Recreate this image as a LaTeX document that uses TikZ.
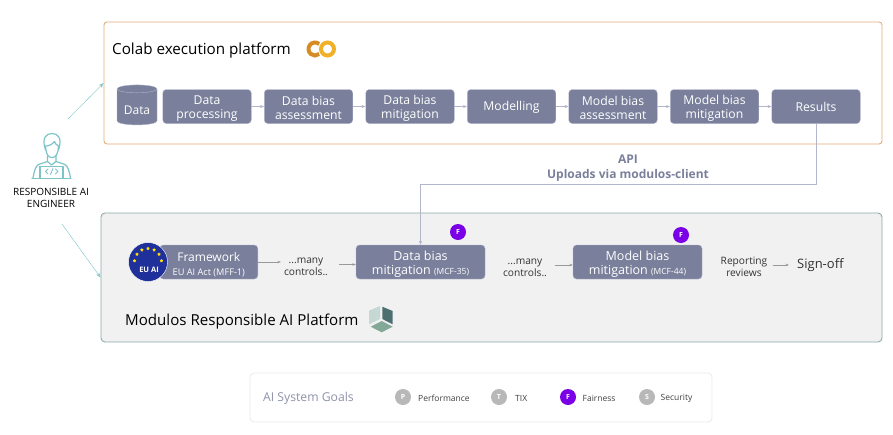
\documentclass[tikz,border=0pt]{standalone}
\usepackage{fontspec}
\setmainfont{Open Sans}
\usetikzlibrary{arrows.meta, shapes.geometric}
\definecolor{boxgray}{HTML}{7A809B}
\definecolor{boxline}{HTML}{B1B6CB}
\definecolor{tealline}{HTML}{7CC4C8}
\definecolor{fairviolet}{HTML}{7A00E6}
\definecolor{badgegray}{HTML}{B8B8B8}
\definecolor{colabline}{HTML}{E0AE78}
\definecolor{colabring}{HTML}{F0B028}
\definecolor{colabarc}{HTML}{D68C24}
\definecolor{modline}{HTML}{8FA8A8}
\definecolor{modleft}{HTML}{C5D8D3}
\definecolor{modright}{HTML}{4D6F70}
\definecolor{modbottom}{HTML}{84A898}
\definecolor{eublue}{HTML}{20309A}
\tikzset{
    stepbase/.style={draw=boxline, fill=boxgray, rounded corners=3.5pt, text=white, align=center,
        minimum width=88.5pt, minimum height=34pt, inner sep=0pt, font=\fontsize{12.2}{14}\selectfont},
    stepbox/.style={stepbase, execute at begin node=\rule{0pt}{27pt}},
    mitbox/.style={stepbase, minimum width=129pt, font=\fontsize{12.5}{14}\selectfont,
        execute at begin node=\rule{0pt}{28pt}},
    flow/.style={draw=boxline, -{Stealth[length=4pt,width=3pt]}},
    grayflow/.style={draw=gray!80, -{Stealth[length=3.5pt,width=2.5pt]}},
    note/.style={align=center, inner sep=0pt, text=black!80, font=\fontsize{10.2}{12}\selectfont,
        execute at begin node=\rule{0pt}{23pt}},
    badge/.style={circle, minimum size=16pt, inner sep=0pt, text=white, font=\bfseries\fontsize{7}{8}\selectfont},
    goal/.style={anchor=west, inner sep=0pt, text=black!75, font=\fontsize{8.5}{10}\selectfont},
    icon/.style={draw=tealline, line width=1.2pt, line cap=round, line join=round},
}
\begin{document}
\begin{tikzpicture}[x=1pt, y=-1pt]
    \useasboundingbox (0,0) rectangle (893,434);
    % platforms
    \node (colab) [draw=colabline, line width=.9pt, rounded corners=3pt, minimum width=778pt, minimum height=122pt, inner sep=0pt] at (493,83) {};
    \node (modulos) [draw=modline, fill=black!5.5, rounded corners=4pt, line width=.9pt, minimum width=781pt, minimum height=129pt, inner sep=0pt] at (491.5,277.5) {};
    \node (colabtitle) [anchor=west, inner sep=0pt, font=\fontsize{15.2}{17}\selectfont] at (112,50.5) {Colab execution platform};
    \node (modulostitle) [anchor=west, inner sep=0pt, font=\fontsize{15.1}{17}\selectfont] at (125,321.5) {Modulos Responsible AI Platform};
    % colab logo
    \draw[line width=4pt, draw=colabring] (327.5,49) circle (6.5pt);
    \draw[line width=4pt, draw=colabarc] (315,49) ++(50:6.5pt) arc (50:310:6.5pt);
    % modulos logo
    \fill[modleft] (369,310.7) -- (380,306) -- (380,319) -- (369,324.3) -- cycle;
    \fill[modright] (382.3,306.7) -- (392.7,311) -- (392.7,324.3) -- (382.3,319) -- cycle;
    \fill[modbottom] (381.7,321) -- (392.7,326.7) -- (381.7,332.3) -- (370.7,326.7) -- cycle;
    % colab pipeline
    \node (data) [cylinder, shape border rotate=90, aspect=.3, draw=boxline, fill=boxgray, text=white, minimum width=40pt, minimum height=40pt, inner sep=0pt, font=\fontsize{12}{14}\selectfont, execute at begin node=\rule{0pt}{15pt}] at (137,107) {Data};
    \node (processing) [stepbox] at (207,106.5) {Data\\processing};
    \node (dataassess) [stepbox] at (308.5,106.5) {Data bias\\assessment};
    \node (datafix) [stepbox] at (410,106.5) {Data bias\\mitigation};
    \node (modelling) [stepbase, execute at begin node=\rule{0pt}{11pt}] at (511.5,106.5) {Modelling};
    \node (modelassess) [stepbox] at (613,106.5) {Model bias\\assessment};
    \node (modelfix) [stepbox] at (714.5,106.5) {Model bias\\mitigation};
    \node (results) [stepbase, execute at begin node=\rule{0pt}{11pt}] at (816,106.5) {Results};
    \draw[flow] (processing) -- (dataassess);
    \draw[flow] (dataassess) -- (datafix);
    \draw[flow] (datafix) -- (modelling);
    \draw[flow] (modelling) -- (modelassess);
    \draw[flow] (modelassess) -- (modelfix);
    \draw[flow] (modelfix) -- (results);
    % engineer
    \draw[icon] (45.5,150) .. controls (41.5,138) and (46,133.5) .. (52,133.5) .. controls (58,133.5) and (62.5,138) .. (58.5,150);
    \draw[icon] (45.5,146) .. controls (46,155) and (48.5,157.5) .. (52,157.5) .. controls (55.5,157.5) and (58,155) .. (58.5,146) .. controls (56,145) and (55,143) .. (54.5,141.5) .. controls (52,145) and (48,146) .. (45.5,146);
    \draw[icon] (47.5,156) -- (47.5,161.5) -- (51.5,165) -- (56,161.5) -- (56,156);
    \draw[icon] (47.5,161.5) -- (38.5,164.5) .. controls (35.5,166) and (34,172) .. (33,178);
    \draw[icon] (56,161.5) -- (65,164.5) .. controls (68,166) and (69.5,172) .. (70.5,178);
    \draw[icon] (40,178) -- (40,166.5) -- (63,166.5) -- (63,178);
    \draw[icon] (32,178.5) -- (71,178.5);
    \draw[icon, line width=.9pt] (48,169) -- (45.5,171.5) -- (48,174) (55.5,169) -- (58,171.5) -- (55.5,174) (53,168.5) -- (50.5,174.5);
    \node (engineer) [align=center, inner sep=0pt, font=\fontsize{10}{12}\selectfont] at (51,197.5) {RESPONSIBLE AI\\ENGINEER};
    \coordinate (engineerup) at (68,119);
    \coordinate (engineerdown) at (62,224);
    \draw[draw=tealline, -{Stealth[length=5pt,width=3.5pt]}] (engineerup) -- (colab.west);
    \draw[draw=tealline, -{Stealth[length=5pt,width=3.5pt]}] (engineerdown) -- (modulos.west);
    % modulos row
    \node (framework) [stepbase, anchor=east, minimum width=98pt, execute at begin node=\rule{0pt}{29pt}] at (258,262) {\fontsize{12}{13}\selectfont Framework\\\fontsize{9.2}{10}\selectfont EU AI Act (MFF-1)};
    \node (euai) [circle, draw=white, fill=eublue, minimum size=39pt, inner sep=0pt] at (148,262) {};
    \node (eulabel) [inner sep=0pt, text=white, font=\bfseries\fontsize{7.5}{9}\selectfont] at (149,270) {EU AI};
    \foreach \ang in {5,35,63,90,117,145,175}
        \node [star, star points=5, fill=yellow!85!orange, minimum size=3.5pt, inner sep=0pt] at ([shift={(\ang:13.5pt)}]euai.center) {};
    \node (manyone) [note] at (306,264.5) {...many\\controls..};
    \node (datamit) [mitbox] at (420.5,262) {Data bias\\mitigation {\fontsize{8.5}{10}\selectfont (MCF-35)}};
    \node (manytwo) [note] at (525,265) {...many\\controls..};
    \node (modelmit) [mitbox] at (637.5,262) {Model bias\\mitigation {\fontsize{8.5}{10}\selectfont (MCF-44)}};
    \node (reviews) [note] at (744,265) {Reporting\\reviews};
    \node (signoff) [anchor=west, inner sep=0pt, text=black!80, font=\fontsize{13}{15}\selectfont] at (797,265.5) {Sign-off};
    \node (fone) [badge, fill=fairviolet] at (458,232) {F};
    \node (ftwo) [badge, fill=fairviolet] at (681,235) {F};
    \draw[grayflow, shorten >=3pt] (framework.east) -- (framework.east -| manyone.west);
    \draw[grayflow, shorten <=11pt] (manyone.east) -- (manyone.east -| datamit.west);
    \draw[grayflow, shorten <=8pt] (manytwo.east) -- (manytwo.east -| modelmit.west);
    \draw[grayflow, shorten <=5pt, shorten >=8pt] (reviews.east) -- (reviews.east -| signoff.west);
    % api upload
    \coordinate (apibend) at (420.5,184);
    \draw[flow] (results.south) |- (apibend) -- (datamit.north);
    \node (apilabel) [align=center, inner sep=0pt, text=boxgray, font=\bfseries\fontsize{12}{15}\selectfont] at (628,168) {API\\Uploads via modulos-client};
    % goals
    \node (legend) [draw=black!8, fill=white, rounded corners=4pt, line width=.8pt, minimum width=462pt, minimum height=49pt, inner sep=0pt] at (481,397.5) {};
    \node (goaltitle) [anchor=west, inner sep=0pt, text=boxgray!85, font=\fontsize{12.2}{14}\selectfont] at (263,398) {AI System Goals};
    \node (pbadge) [badge, fill=badgegray] at (403,397) {P};
    \node (tbadge) [badge, fill=badgegray] at (499,397) {T};
    \node (fbadge) [badge, fill=fairviolet] at (568,397) {F};
    \node (sbadge) [badge, fill=badgegray] at (647,397) {S};
    \node (pgoal) [goal] at (418,398) {Performance};
    \node (tgoal) [goal] at (515,398) {TIX};
    \node (fgoal) [goal] at (582.5,398) {Fairness};
    \node (sgoal) [goal] at (660.5,398) {Security};
\end{tikzpicture}
\end{document}
